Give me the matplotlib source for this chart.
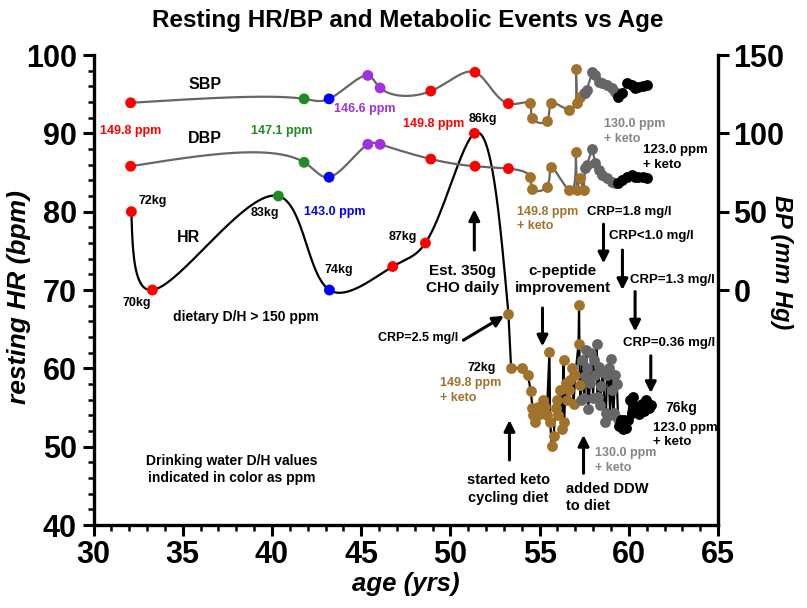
import numpy as np
import matplotlib.pyplot as plt
from matplotlib.ticker import MultipleLocator

plt.rcParams['font.family'] = ['Liberation Sans', 'DejaVu Sans']
plt.rcParams['font.weight'] = 'bold'

RED, GREEN, BLUE, PURPLE = '#FF0000', '#228B22', '#0000FF', '#A030E0'
BROWN, GRAY, GRAYTXT = '#A0722A', '#666666', '#858585'

# --- resting HR, before keto (age in yrs, bpm) ---
hr_age = [32.12, 33.3, 40.36, 43.22, 46.77, 48.6, 51.35]
hr_val = [80, 70, 82, 70, 73, 76, 90]
hr_col = [RED, RED, GREEN, BLUE, RED, RED, RED]

# --- resting HR, keto phases ---
hr_brown_age = [53.25, 53.40, 54.00, 54.35, 54.50, 54.60, 54.65, 54.75, 54.90, 55.03,
                55.20, 55.30, 55.40, 55.55, 55.59, 55.68, 55.78, 55.90, 55.96, 56.05,
                56.15, 56.24, 56.34, 56.37, 56.45, 56.52, 56.62, 56.71, 56.80, 56.90,
                57.00, 57.18, 57.21, 57.25]
hr_brown_val = [67.0, 60.1, 60.0, 59.1, 57.1, 55.0, 54.0, 53.1, 55.1, 54.2,
                55.9, 55.1, 54.0, 62.1, 53.2, 50.1, 51.3, 55.0, 56.0, 54.0,
                57.2, 52.3, 61.1, 53.1, 58.1, 56.0, 57.2, 58.5, 60.0, 55.5,
                59.1, 63.1, 68.1, 57.9]
hr_gray_age = [57.30, 57.40, 57.50, 57.55, 57.61, 57.64, 57.72, 57.83, 57.90, 58.00,
               58.05, 58.11, 58.20, 58.25, 58.30, 58.39, 58.45, 58.55, 58.67, 58.72,
               58.77, 58.86, 58.95, 59.00, 59.05, 59.14, 59.23, 59.33, 59.40]
hr_gray_val = [56.0, 61.1, 56.2, 59.0, 62.3, 60.1, 54.8, 58.1, 62.0, 56.2,
               61.1, 59.1, 63.1, 56.4, 60.2, 55.3, 57.7, 59.5, 53.2, 54.3,
               59.1, 60.1, 54.0, 61.2, 57.2, 54.3, 59.1, 58.0, 53.5]
hr_black_age = [59.45, 59.55, 59.65, 59.75, 59.85, 59.95, 60.05, 60.15, 60.25, 60.35,
                60.45, 60.55, 60.65, 60.75, 60.85, 60.95, 61.05, 61.15, 61.25]
hr_black_val = [52.6, 53.4, 52.3, 53.4, 52.4, 53.4, 56.0, 54.3, 56.4, 55.2,
                54.5, 54.2, 55.0, 55.5, 54.6, 56.0, 55.3, 54.9, 55.3]

# --- blood pressure (mm Hg) ---
bp_age = [32.08, 41.8, 43.2, 45.37, 46.06, 48.9, 51.38, 53.25]
sbp_val = [119.5, 122, 122, 137, 129, 127, 139, 119]
dbp_val = [79, 81.5, 72, 93, 93, 83.6, 79, 77.5]
bp_col = [RED, GREEN, BLUE, PURPLE, PURPLE, RED, RED, RED]

bp_brown_age = [54.47, 54.6, 55.4, 55.65, 56.67, 57.03, 57.08, 57.27, 57.46]
sbp_brown = [119.6, 109.6, 107.9, 119.6, 114.9, 141.1, 119.6, 123.4, 125.5]
dbp_brown = [72.3, 64.3, 66.0, 78.7, 63.8, 88.3, 63.8, 71.3, 64.0]
bp_gray_age = [57.55, 57.64, 57.96, 58.11, 58.3, 58.5, 58.77, 59.05, 59.23]
sbp_gray = [126.0, 127.7, 139.4, 137.2, 133.0, 131.9, 130.9, 128.7, 126.6]
dbp_gray = [77.7, 80.0, 90.0, 80.9, 76.6, 73.4, 71.3, 69.2, 68.1]
bp_black_age = [59.42, 59.61, 59.89, 60.17, 60.35, 60.54, 60.82, 61.01]
sbp_black = [123.4, 125.5, 131.9, 130.9, 128.7, 129.8, 130.2, 130.9]
dbp_black = [68.1, 70.2, 72.3, 73.4, 72.3, 72.3, 71.9, 71.3]


def natural(t, v, tt):
    t = np.asarray(t, float)
    v = np.asarray(v, float)
    k = len(t)
    h = np.diff(t)
    A = np.zeros((k, k))
    r = np.zeros(k)
    A[0, 0] = A[-1, -1] = 1
    for i in range(1, k - 1):
        A[i, i - 1], A[i, i], A[i, i + 1] = h[i - 1], 2 * (h[i - 1] + h[i]), h[i]
        r[i] = 3 * ((v[i + 1] - v[i]) / h[i] - (v[i] - v[i - 1]) / h[i - 1])
    c = np.linalg.solve(A, r)
    b = (v[1:] - v[:-1]) / h - h * (2 * c[:-1] + c[1:]) / 3
    d = (c[1:] - c[:-1]) / (3 * h)
    j = np.clip(np.searchsorted(t, tt) - 1, 0, k - 2)
    u = tt - t[j]
    return v[j] + b[j] * u + c[j] * u ** 2 + d[j] * u ** 3


def smooth(x, y, yscale, n=800, alpha=0.6):
    # parametric spline on screen-like scale (x: ~17.8 px/yr)
    X = np.asarray(x, float) * 17.84
    Y = np.asarray(y, float) * yscale
    t = np.concatenate([[0], np.cumsum(np.hypot(np.diff(X), np.diff(Y)) ** alpha)])
    tt = np.linspace(0, t[-1], n)
    return natural(t, x, tt), natural(t, y, tt)


fig = plt.figure(figsize=(8.07, 6.08), dpi=100)
ax = fig.add_axes([0.1159, 0.1365, 0.7739, 0.773])
ax2 = ax.twinx()

ms = 7.8
# HR
sx, sy = smooth(hr_age + hr_brown_age[:1], hr_val + hr_brown_val[:1], 7.833)
ax.plot(sx, sy, color='black', lw=1.6, zorder=2)
ax.plot(hr_brown_age + hr_gray_age + hr_black_age,
        hr_brown_val + hr_gray_val + hr_black_val, color='black', lw=1.6, zorder=2)
ax.scatter(hr_age, hr_val, c=hr_col, s=ms ** 2, zorder=4, linewidths=0)
ax.scatter(hr_brown_age, hr_brown_val, c=BROWN, s=ms ** 2, zorder=4, linewidths=0)
ax.scatter(hr_gray_age, hr_gray_val, c=GRAY, s=ms ** 2, zorder=4, linewidths=0)
ax.scatter(hr_black_age, hr_black_val, c='black', s=ms ** 2, zorder=4, linewidths=0)

# BP on the right axis
for pre, brown, gray, black in [(sbp_val, sbp_brown, sbp_gray, sbp_black),
                                (dbp_val, dbp_brown, dbp_gray, dbp_black)]:
    sx, sy = smooth(bp_age + bp_brown_age[:6], pre + brown[:6], 7.833 / 5)
    ax2.plot(sx, sy, color=GRAY, lw=1.6, zorder=2)
    ax2.plot(bp_brown_age[5:] + bp_gray_age + bp_black_age,
             brown[5:] + gray + black, color=GRAY, lw=1.6, zorder=2)
    ax2.scatter(bp_age, pre, c=bp_col, s=ms ** 2, zorder=4, linewidths=0)
    ax2.scatter(bp_brown_age, brown, c=BROWN, s=ms ** 2, zorder=4, linewidths=0)
    ax2.scatter(bp_gray_age, gray, c=GRAY, s=ms ** 2, zorder=4, linewidths=0)
    ax2.scatter(bp_black_age, black, c='black', s=ms ** 2, zorder=4, linewidths=0)

ax.set_xlim(30, 65)
ax.set_ylim(40, 100)
ax2.set_ylim(-150, 150)
ax.xaxis.set_major_locator(MultipleLocator(5))
ax.xaxis.set_minor_locator(MultipleLocator(1))
ax.yaxis.set_major_locator(MultipleLocator(10))
ax.yaxis.set_minor_locator(MultipleLocator(2))
ax2.set_yticks([0, 50, 100, 150])

for a in (ax, ax2):
    a.spines['top'].set_visible(False)
    for s in a.spines.values():
        s.set_linewidth(2.4)
    a.tick_params(which='major', length=8, width=2.2, labelsize=22, pad=3)
    a.tick_params(which='minor', length=4.5, width=1.8)
ax.tick_params(axis='y', which='major', pad=4)
ax.spines['right'].set_visible(False)
ax2.spines['left'].set_visible(False)
ax2.spines['bottom'].set_visible(False)

ax.set_xlabel('age (yrs)', fontsize=18.5, style='italic', fontweight='bold', labelpad=1)
ax.set_ylabel('resting HR (bpm)', fontsize=19, style='italic', fontweight='bold')
ax.yaxis.set_label_coords(-0.1, 0.485)
ax2.set_ylabel('BP (mm Hg)', fontsize=17, style='italic', fontweight='bold', rotation=-90)
ax2.yaxis.set_label_coords(1.12, 0.56)
fig.suptitle('Resting HR/BP and Metabolic Events vs Age', fontsize=17.5,
             fontweight='bold', y=0.985, x=0.505)


def txt(x, y, s, size=9, color='black', ha='center'):
    ax.text(x, y, s, fontsize=size, color=color, ha=ha, va='center',
            linespacing=1.3, zorder=5)


txt(32.1, 90.3, '149.8 ppm', color=RED)
txt(40.55, 90.3, '147.1 ppm', color=GREEN)
txt(45.22, 93.1, '146.6 ppm', color=PURPLE)
txt(49.05, 91.2, '149.8 ppm', color=RED)
txt(51.82, 91.8, '86kg')
txt(36.25, 96.3, 'SBP', size=11.5)
txt(36.25, 89.4, 'DBP', size=11.5)
txt(33.3, 81.4, '72kg')
txt(32.45, 68.4, '70kg')
txt(35.3, 76.7, 'HR', size=11.5)
txt(39.6, 79.8, '83kg')
txt(43.54, 79.9, '143.0 ppm', color=BLUE)
txt(43.72, 72.55, '74kg')
txt(47.33, 76.8, '87kg')
txt(50.7, 71.3, 'Est. 350g\nCHO daily', size=11)
txt(38.55, 66.6, 'dietary D/H > 150 ppm', size=10)
txt(50.43, 63.9, 'CRP=2.5 mg/l', ha='right')
txt(56.3, 71.3, 'c-peptide\nimprovement', size=11)
txt(53.75, 79.05, '149.8 ppm\n+ keto', color=BROWN, ha='left')
txt(57.68, 79.9, 'CRP=1.8 mg/l', size=9.5, ha='left')
txt(58.91, 76.9, 'CRP<1.0 mg/l', size=9.5, ha='left')
txt(60.07, 71.3, 'CRP=1.3 mg/l', size=9.5, ha='left')
txt(59.66, 63.2, 'CRP=0.36 mg/l', size=9.5, ha='left')
txt(51.78, 60.1, '72kg')
txt(49.42, 57.2, '149.8 ppm\n+ keto', color=BROWN, ha='left')
txt(53.24, 44.6, 'started keto\ncycling diet', size=10.5)
txt(58.11, 48.2, '130.0 ppm\n+ keto', color=GRAYTXT, ha='left')
txt(56.49, 43.5, 'added DDW\nto diet', size=10.5, ha='left')
txt(62.03, 55.0, '76kg', size=10, ha='left')
txt(61.38, 51.5, '123.0 ppm\n+ keto', size=9.5, ha='left')
txt(58.62, 90.2, '130.0 ppm\n+ keto', color=GRAYTXT, ha='left')
txt(60.82, 86.9, '123.0 ppm\n+ keto', size=9.5, ha='left')
txt(37.76, 47.1, 'Drinking water D/H values\nindicated in color as ppm', size=10)

# arrows: (from, to) in (age, bpm)
arrows = [((51.34, 75.1), (51.34, 80.3)),
          ((50.73, 63.6), (53.0, 66.7)),
          ((55.16, 67.7), (55.16, 62.8)),
          ((58.58, 78.4), (58.58, 73.4)),
          ((59.64, 75.1), (59.64, 70.0)),
          ((60.35, 69.8), (60.35, 64.7)),
          ((61.23, 61.6), (61.23, 56.85)),
          ((53.31, 48.3), (53.31, 53.4)),
          ((57.46, 46.6), (57.46, 51.5))]
for start, end in arrows:
    ax.annotate('', xy=end, xytext=start, zorder=5,
                arrowprops=dict(arrowstyle='-|>', color='black', lw=2.2,
                                mutation_scale=16, shrinkA=0, shrinkB=0))

plt.savefig('out.png', dpi=100)
